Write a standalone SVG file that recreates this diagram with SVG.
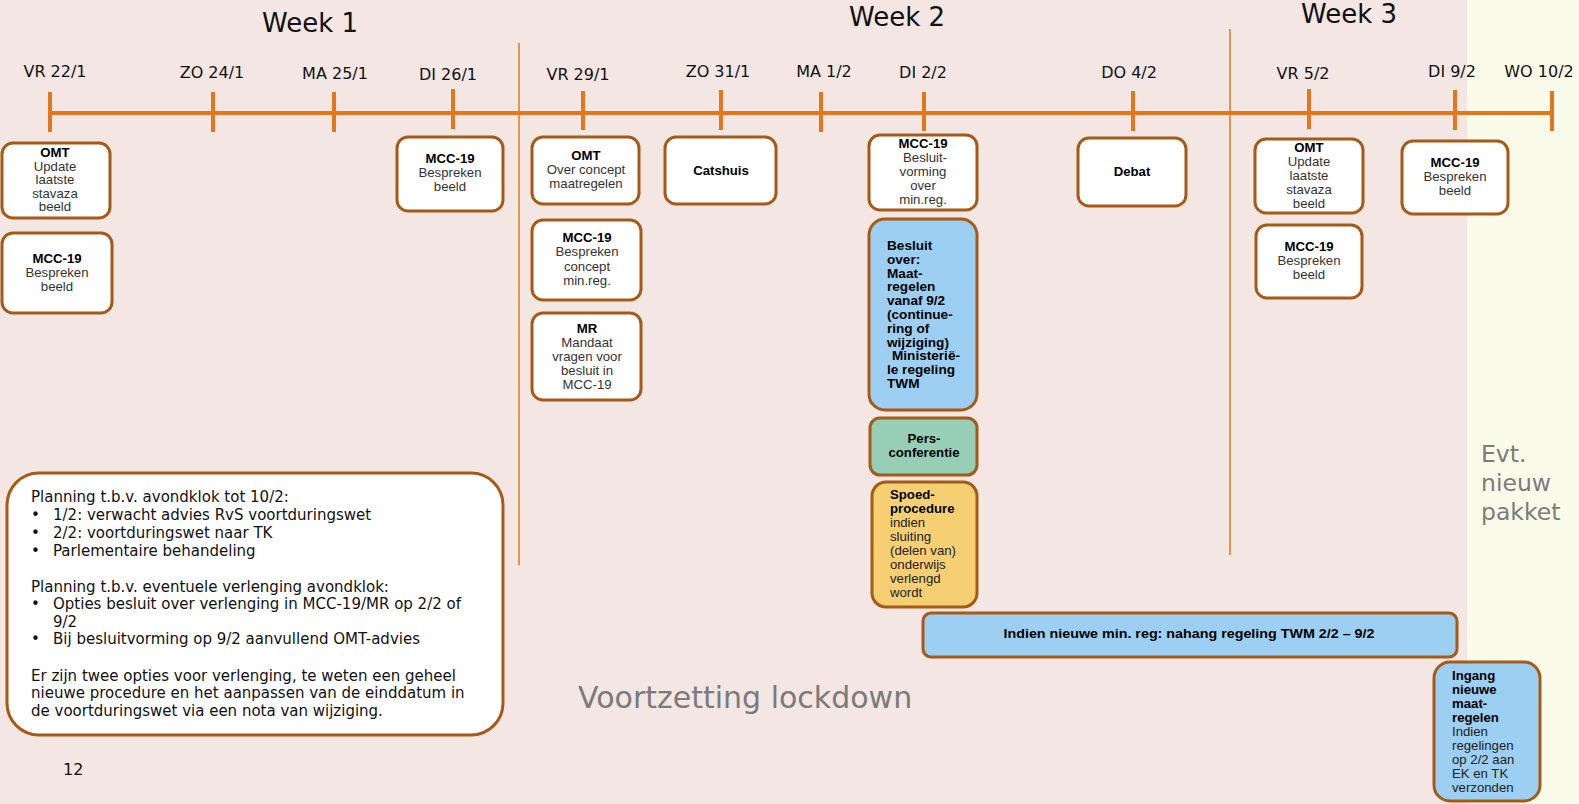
<svg xmlns="http://www.w3.org/2000/svg" width="1579" height="804" viewBox="0 0 1579 804">
<style>
.bg{fill:#f3e6e3}
.bg2{fill:#fbfbe9}
.tl{stroke:#e3771c;stroke-width:4;fill:none}
.sep{stroke:#e3771c;stroke-width:1.5;fill:none}
.box{fill:#ffffff;stroke:#a65a17;stroke-width:3}
.blue{fill:#9ccff1;stroke:#a65a17;stroke-width:3}
.green{fill:#97cfb6;stroke:#a65a17;stroke-width:3}
.gold{fill:#f6cf73;stroke:#a65a17;stroke-width:3}
.wk{font-family:"DejaVu Sans",Verdana,sans-serif;font-size:26px;fill:#111;text-anchor:middle}
.dt{font-family:"DejaVu Sans",Verdana,sans-serif;font-size:16px;fill:#111;text-anchor:middle}
.bx{font-family:"Liberation Sans",Arial,sans-serif;font-size:13.2px;fill:#333;text-anchor:middle}
.bxl{font-family:"Liberation Sans",Arial,sans-serif;font-size:13.2px;fill:#222}
.b{font-weight:bold;fill:#000}
.nt{font-family:"DejaVu Sans",Verdana,sans-serif;font-size:15px;fill:#111}
.gr{font-family:"DejaVu Sans",Verdana,sans-serif;fill:#7b7b7b}
</style>
<rect class="bg" x="0" y="0" width="1579" height="804"/>
<rect class="bg2" x="1467" y="0" width="112" height="804"/>

<g id="headers">
<text class="wk" x="310" y="32">Week 1</text>
<text class="wk" x="897" y="26">Week 2</text>
<text class="wk" x="1349" y="23">Week 3</text>
<text class="dt" x="55" y="77">VR 22/1</text>
<text class="dt" x="212" y="78">ZO 24/1</text>
<text class="dt" x="335" y="79">MA 25/1</text>
<text class="dt" x="448" y="80">DI 26/1</text>
<text class="dt" x="578" y="80">VR 29/1</text>
<text class="dt" x="718" y="77">ZO 31/1</text>
<text class="dt" x="824" y="77">MA 1/2</text>
<text class="dt" x="923" y="78">DI 2/2</text>
<text class="dt" x="1129" y="78">DO 4/2</text>
<text class="dt" x="1303" y="79">VR 5/2</text>
<text class="dt" x="1452" y="77">DI 9/2</text>
<text class="dt" x="1539" y="77">WO 10/2</text>
</g>

<g id="connectors">
<line class="tl" x1="49" y1="113" x2="1552" y2="113"/>
<path class="tl" d="M50 92V132M213 92V132M334 92V132M453 89V129M583 91V130M721 90V130M821 92V132M924 92V131M1133 91V131M1309 89V129M1455 90V130M1552 91V131"/>
<line class="sep" x1="519" y1="43" x2="519" y2="565"/>
<line class="sep" x1="1230" y1="29" x2="1230" y2="555"/>
</g>

<g id="omt-221">
<rect class="box" x="2" y="143" width="108" height="75" rx="11"/>
<text class="bx" x="55" y="157"><tspan class="b">OMT</tspan><tspan x="55" dy="13.5">Update</tspan><tspan x="55" dy="13.5">laatste</tspan><tspan x="55" dy="13.5">stavaza</tspan><tspan x="55" dy="13.5">beeld</tspan></text>
</g>
<g id="mcc-221">
<rect class="box" x="2" y="233" width="110" height="80" rx="11"/>
<text class="bx" x="57" y="263"><tspan class="b">MCC-19</tspan><tspan x="57" dy="14">Bespreken</tspan><tspan x="57" dy="14">beeld</tspan></text>
</g>
<g id="mcc-261">
<rect class="box" x="397" y="137" width="106" height="74" rx="11"/>
<text class="bx" x="450" y="163"><tspan class="b">MCC-19</tspan><tspan x="450" dy="14">Bespreken</tspan><tspan x="450" dy="14">beeld</tspan></text>
</g>
<g id="omt-291">
<rect class="box" x="532" y="137" width="107" height="67" rx="11"/>
<text class="bx" x="586" y="160"><tspan class="b">OMT</tspan><tspan x="586" dy="14">Over concept</tspan><tspan x="586" dy="13.5">maatregelen</tspan></text>
</g>
<g id="mcc-291">
<rect class="box" x="532" y="220" width="109" height="80" rx="11"/>
<text class="bx" x="587" y="242"><tspan class="b">MCC-19</tspan><tspan x="587" dy="14.3">Bespreken</tspan><tspan x="587" dy="14.3">concept</tspan><tspan x="587" dy="14.3">min.reg.</tspan></text>
</g>
<g id="mr-291">
<rect class="box" x="532" y="313" width="109" height="87" rx="11"/>
<text class="bx" x="587" y="333"><tspan class="b">MR</tspan><tspan x="587" dy="14">Mandaat</tspan><tspan x="587" dy="14">vragen voor</tspan><tspan x="587" dy="14">besluit in</tspan><tspan x="587" dy="14">MCC-19</tspan></text>
</g>
<g id="catshuis">
<rect class="box" x="665" y="137" width="111" height="67" rx="11"/>
<text class="bx b" x="721" y="175">Catshuis</text>
</g>
<g id="mcc-22">
<rect class="box" x="869" y="135" width="108" height="75" rx="11"/>
<text class="bx" x="923" y="148"><tspan class="b">MCC-19</tspan><tspan x="925" dy="14">Besluit-</tspan><tspan x="923" dy="14">vorming</tspan><tspan x="923" dy="14">over</tspan><tspan x="923" dy="14">min.reg.</tspan></text>
</g>
<g id="besluit">
<rect class="blue" x="869" y="219" width="108" height="191" rx="16"/>
<text class="bxl b" x="887" y="250" style="font-size:13.6px"><tspan>Besluit</tspan><tspan x="887" dy="13.8">over:</tspan><tspan x="887" dy="13.8">Maat-</tspan><tspan x="887" dy="13.8">regelen</tspan><tspan x="887" dy="13.8">vanaf 9/2</tspan><tspan x="887" dy="13.8">(continue-</tspan><tspan x="887" dy="13.8">ring of</tspan><tspan x="887" dy="13.8">wijziging)</tspan><tspan x="892" dy="13.8">Ministeriё-</tspan><tspan x="887" dy="13.8">le regeling</tspan><tspan x="887" dy="13.8">TWM</tspan></text>
</g>
<g id="pers">
<rect class="green" x="870" y="418" width="107" height="57" rx="10"/>
<text class="bx b" x="924" y="443"><tspan>Pers-</tspan><tspan x="924" dy="14">conferentie</tspan></text>
</g>
<g id="spoed">
<rect class="gold" x="872" y="482" width="105" height="125" rx="14"/>
<text class="bxl" x="890" y="499"><tspan class="b">Spoed-</tspan><tspan x="890" dy="14" class="b">procedure</tspan><tspan x="890" dy="14">indien</tspan><tspan x="890" dy="14">sluiting</tspan><tspan x="890" dy="14">(delen van)</tspan><tspan x="890" dy="14">onderwijs</tspan><tspan x="890" dy="14">verlengd</tspan><tspan x="890" dy="14">wordt</tspan></text>
</g>
<g id="debat">
<rect class="box" x="1078" y="138" width="108" height="68" rx="11"/>
<text class="bx b" x="1132" y="176">Debat</text>
</g>
<g id="omt-52">
<rect class="box" x="1255" y="139" width="108" height="74" rx="11"/>
<text class="bx" x="1309" y="152"><tspan class="b">OMT</tspan><tspan x="1309" dy="14">Update</tspan><tspan x="1309" dy="14">laatste</tspan><tspan x="1309" dy="14">stavaza</tspan><tspan x="1309" dy="14">beeld</tspan></text>
</g>
<g id="mcc-52">
<rect class="box" x="1256" y="225" width="106" height="73" rx="11"/>
<text class="bx" x="1309" y="251"><tspan class="b">MCC-19</tspan><tspan x="1309" dy="14">Bespreken</tspan><tspan x="1309" dy="14">beeld</tspan></text>
</g>
<g id="mcc-92">
<rect class="box" x="1402" y="141" width="106" height="73" rx="11"/>
<text class="bx" x="1455" y="167"><tspan class="b">MCC-19</tspan><tspan x="1455" dy="14">Bespreken</tspan><tspan x="1455" dy="14">beeld</tspan></text>
</g>
<g id="nahang">
<rect class="blue" x="923" y="613" width="534" height="44" rx="8"/>
<text class="bx b" x="1189" y="638" style="font-size:13.5px" textLength="371" lengthAdjust="spacingAndGlyphs">Indien nieuwe min. reg: nahang regeling TWM 2/2 – 9/2</text>
</g>
<g id="ingang">
<rect class="blue" x="1434" y="662" width="106" height="139" rx="16"/>
<text class="bxl" x="1452" y="680"><tspan class="b">Ingang</tspan><tspan x="1452" dy="14" class="b">nieuwe</tspan><tspan x="1452" dy="14" class="b">maat-</tspan><tspan x="1452" dy="14" class="b">regelen</tspan><tspan x="1452" dy="14">Indien</tspan><tspan x="1452" dy="14">regelingen</tspan><tspan x="1452" dy="14">op 2/2 aan</tspan><tspan x="1452" dy="14">EK en TK</tspan><tspan x="1452" dy="14">verzonden</tspan></text>
</g>
<g id="planning">
<rect class="box" x="7" y="473" width="496" height="262" rx="32"/>
<text class="nt" x="31" y="502">Planning t.b.v. avondklok tot 10/2:</text>
<text class="nt" x="31" y="520">•<tspan x="53">1/2: verwacht advies RvS voortduringswet</tspan></text>
<text class="nt" x="31" y="538">•<tspan x="53">2/2: voortduringswet naar TK</tspan></text>
<text class="nt" x="31" y="556">•<tspan x="53">Parlementaire behandeling</tspan></text>
<text class="nt" x="31" y="592">Planning t.b.v. eventuele verlenging avondklok:</text>
<text class="nt" x="31" y="609">•<tspan x="53">Opties besluit over verlenging in MCC-19/MR op 2/2 of</tspan></text>
<text class="nt" x="53" y="627">9/2</text>
<text class="nt" x="31" y="644">•<tspan x="53">Bij besluitvorming op 9/2 aanvullend OMT-advies</tspan></text>
<text class="nt" x="31" y="681">Er zijn twee opties voor verlenging, te weten een geheel</text>
<text class="nt" x="31" y="698">nieuwe procedure en het aanpassen van de einddatum in</text>
<text class="nt" x="31" y="716">de voortduringswet via een nota van wijziging.</text>
</g>
<text class="nt" x="63" y="775" style="font-size:16px">12</text>
<text class="gr" x="578" y="708" style="font-size:30px">Voortzetting lockdown</text>
<text class="gr" x="1481" y="462" style="font-size:23.5px"><tspan>Evt.</tspan><tspan x="1481" dy="29">nieuw</tspan><tspan x="1481" dy="29">pakket</tspan></text>
</svg>
